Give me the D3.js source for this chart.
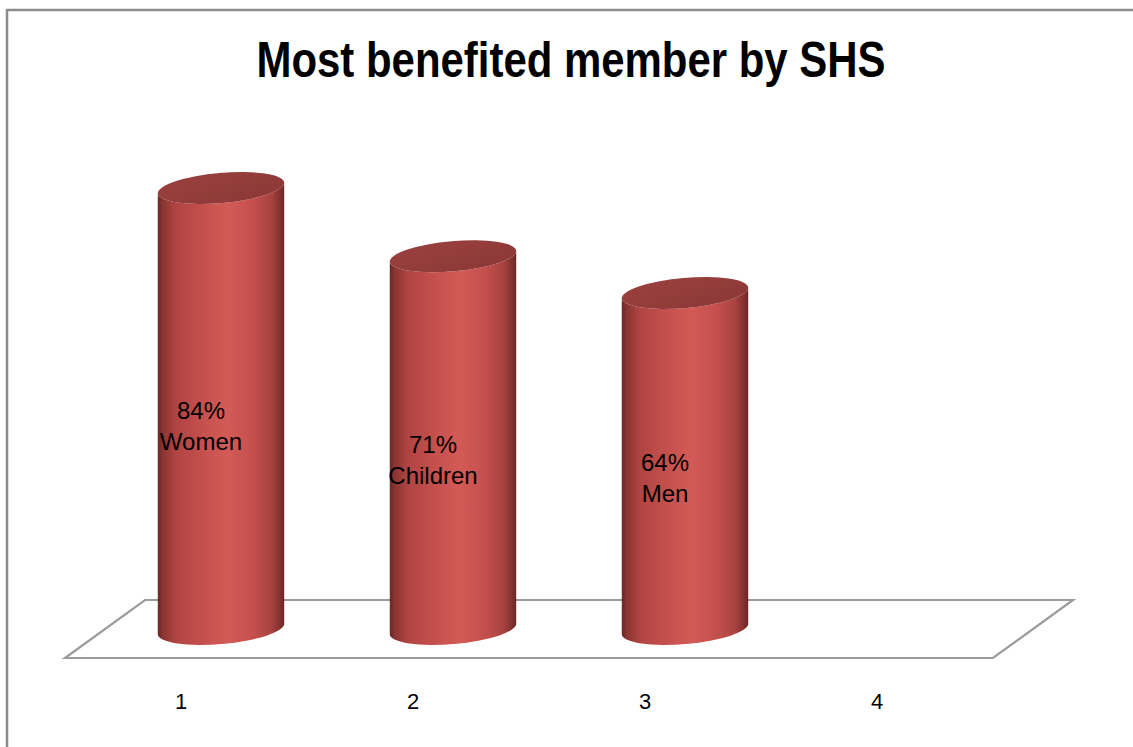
<!DOCTYPE html>
<html>
<head>
<meta charset="utf-8">
<script src="https://cdn.jsdelivr.net/npm/d3@7"></script>
<style>
  html, body { margin: 0; padding: 0; background: #fff; overflow: hidden; }
  svg { display: block; }
</style>
</head>
<body>
<svg id="chart" width="1133" height="747"></svg>
<script>
// Chart data
const categories = ["1", "2", "3", "4"];
const values = [84, 71, 64, null];
const memberNames = ["Women", "Children", "Men", ""];
const chartTitle = "Most benefited member by SHS";

const W = 1133, H = 747;
const svg = d3.select("#chart");

// Outer chart frame (right and bottom edges run off the page)
svg.append("rect")
  .attr("x", 7).attr("y", 10)
  .attr("width", W + 20).attr("height", H + 20)
  .attr("fill", "#fff")
  .attr("stroke", "#8c8c8c")
  .attr("stroke-width", 2.5);

// Title
svg.append("text")
  .attr("x", 571).attr("y", 77)
  .attr("text-anchor", "middle")
  .attr("font-family", "'Liberation Sans Narrow', 'Arial Narrow', 'Liberation Sans', Arial, sans-serif")
  .attr("font-weight", "bold")
  .attr("font-size", 50)
  .attr("textLength", 629)
  .attr("lengthAdjust", "spacingAndGlyphs")
  .attr("fill", "#000")
  .text(chartTitle);

// Scales: categories along the front floor edge, values up the bars
const x = d3.scaleBand().domain(categories).range([65, 993]).padding(0);
const y = d3.scaleLinear().domain([0, 100]).range([629, 104]);

// 3D depth of the floor
const depthX = 80, depthY = -58;
const floorFront = y(0) - depthY / 2;   // front edge
const floorBack = y(0) + depthY / 2;    // back edge
const x0 = x.range()[0], x1 = x.range()[1];

// Floor parallelogram
svg.append("path")
  .attr("d", `M${x0},${floorFront} L${x1},${floorFront} L${x1 + depthX},${floorBack} L${x0 + depthX},${floorBack} Z`)
  .attr("fill", "#fff")
  .attr("stroke", "#9c9c9c")
  .attr("stroke-width", 2.2)
  .attr("stroke-linejoin", "miter");

// Gradients for the cylinders
const defs = svg.append("defs");
const side = defs.append("linearGradient")
  .attr("id", "cylSide")
  .attr("x1", "0").attr("x2", "1").attr("y1", "0").attr("y2", "0");
[
  [0, "#6a2725"], [0.04, "#8a3533"], [0.14, "#b04442"], [0.35, "#c4504d"],
  [0.55, "#d35a57"], [0.75, "#c4504d"], [0.9, "#a8423f"], [0.97, "#80302e"], [1, "#6a2624"]
].forEach(([o, c]) => side.append("stop").attr("offset", o).attr("stop-color", c));

const topGrad = defs.append("linearGradient")
  .attr("id", "cylTop")
  .attr("x1", "0").attr("x2", "1").attr("y1", "0").attr("y2", "1");
[[0, "#9a403e"], [0.5, "#933d3b"], [1, "#8a3735"]]
  .forEach(([o, c]) => topGrad.append("stop").attr("offset", o).attr("stop-color", c));

// Cylinder geometry
const barWidth = x.bandwidth() * 0.547;
const rx = barWidth / 2, ry = 15;
const tilt = -5; // degrees, ellipse rotation
const tRad = tilt * Math.PI / 180;
const ex = rx * Math.cos(tRad), ey = rx * Math.sin(tRad);

const data = categories.map((c, i) => ({ cat: c, value: values[i], name: memberNames[i] }))
  .filter(d => d.value != null);

const bars = svg.append("g").selectAll("g.bar").data(data).join("g").attr("class", "bar");

bars.each(function(d) {
  const g = d3.select(this);
  const cx = x(d.cat) + x.bandwidth() / 2 + depthX / 2;
  const yb = y(0), yt = y(d.value);
  // left/right endpoints of the rotated ellipses
  const lbx = cx - ex, lby = yb - ey, rbx = cx + ex, rby = yb + ey;
  const ltx = cx - ex, lty = yt - ey, rtx = cx + ex, rty = yt + ey;
  const body = `M${ltx},${lty} L${lbx},${lby} A${rx},${ry} ${tilt} 0 0 ${rbx},${rby} L${rtx},${rty} A${rx},${ry} ${tilt} 0 1 ${ltx},${lty} Z`;
  g.append("path").attr("d", body).attr("fill", "url(#cylSide)");
  g.append("ellipse")
    .attr("cx", cx).attr("cy", yt)
    .attr("rx", rx).attr("ry", ry)
    .attr("transform", `rotate(${tilt},${cx},${yt})`)
    .attr("fill", "url(#cylTop)");

  // value + name label
  const lx = x(d.cat) + x.bandwidth() / 2 + 20;
  const ly = (yb + yt) / 2 + 17;
  const t = g.append("text")
    .attr("text-anchor", "middle")
    .attr("font-family", "'Liberation Sans', Arial, sans-serif")
    .attr("font-size", 24)
    .attr("fill", "#000");
  t.append("tspan").attr("x", lx).attr("y", ly - 7).text(d.value + "%");
  t.append("tspan").attr("x", lx).attr("y", ly + 24).text(d.name);
});

// Category axis labels
svg.append("g").selectAll("text").data(categories).join("text")
  .attr("x", d => x(d) + x.bandwidth() / 2)
  .attr("y", 709)
  .attr("text-anchor", "middle")
  .attr("font-family", "'Liberation Sans', Arial, sans-serif")
  .attr("font-size", 22)
  .attr("fill", "#000")
  .text(d => d);
</script>
</body>
</html>
